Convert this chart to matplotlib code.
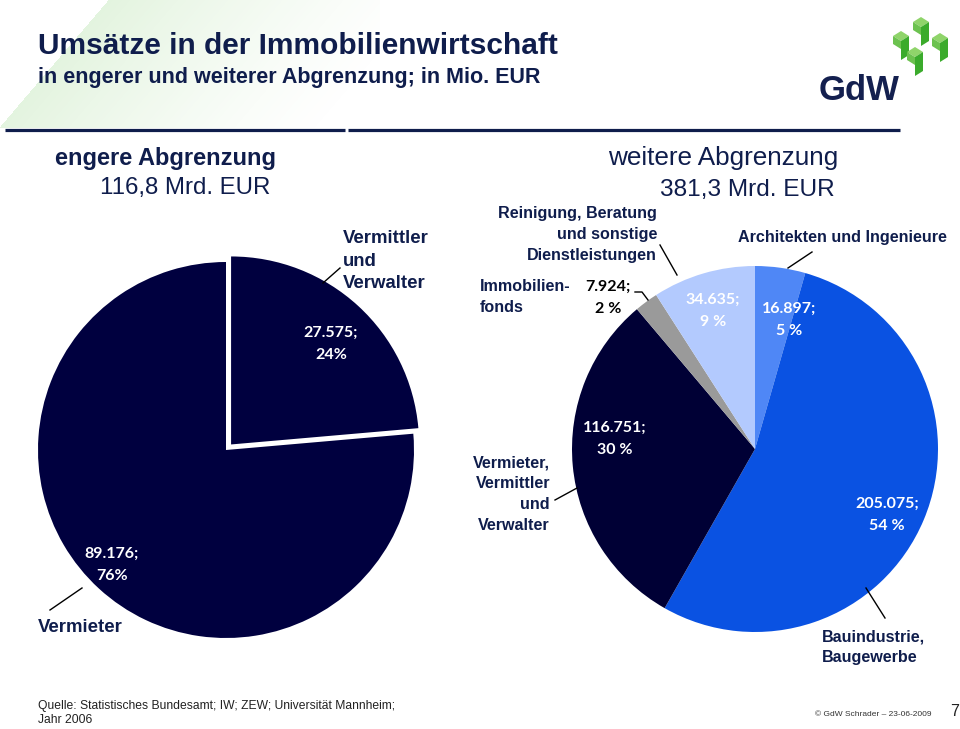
import numpy as np
import matplotlib.pyplot as plt
from matplotlib.patches import Polygon

# data (Mio. EUR)
narrow_labels = ["Vermittler und Verwalter", "Vermieter"]
narrow_values = [27575, 89176]
narrow_pct = ["24%", "76%"]

wide_labels = ["Architekten und Ingenieure", "Bauindustrie, Baugewerbe",
               "Vermieter, Vermittler und Verwalter", "Immobilienfonds",
               "Reinigung, Beratung und sonstige Dienstleistungen"]
wide_values = [16897, 205075, 116751, 7924, 34635]
wide_pct = ["5 %", "54 %", "30 %", "2 %", "9 %"]

narrow_total = "116,8 Mrd. EUR"
wide_total = "381,3 Mrd. EUR"

W, H = 960, 729
NAVY = "#0f1d4c"
ARIAL = "Liberation Sans"
CALIBRI = "Lato"


def Y(y):
    # slide pixel rows run top-down, axes run bottom-up
    return H - y


def fmt(v):
    return f"{v:,}".replace(",", ".") + ";"


fig = plt.figure(figsize=(W / 100, H / 100), dpi=100)
ax = fig.add_axes([0, 0, 1, 1])

# pale green header wash
gx, gy = np.meshgrid(np.linspace(0, 380, 380), np.linspace(0, 128, 128))
edge = 108 - gy * 0.85
alpha = np.where(gx > edge, np.clip(1 - (gx - edge) / 330, 0, 1) ** 1.3 * 0.24, 0)
img = np.zeros((128, 380, 4))
img[..., 0], img[..., 1], img[..., 2] = 0.55, 0.82, 0.48
img[..., 3] = alpha
ax.imshow(img, extent=(0, 380, Y(128), Y(0)), origin="upper", zorder=0,
          interpolation="bilinear")

# left pie (engere Abgrenzung); explode is in data units here
r1 = 188
w1, _ = ax.pie(narrow_values, colors=["#00003f", "#00003f"],
               explode=[0.04 * r1, 0], startangle=90, counterclock=False,
               center=(226, Y(450)), radius=r1, wedgeprops=dict(linewidth=0))

# right pie (weitere Abgrenzung)
wide_colors = ["#4f87f6", "#0a52e2", "#000035", "#9a9a9a", "#b3cafe"]
w2, _ = ax.pie(wide_values, colors=wide_colors, startangle=90,
               counterclock=False, center=(755, Y(449)), radius=183,
               wedgeprops=dict(linewidth=0))

ax.set_xlim(0, W)
ax.set_ylim(0, H)
ax.set_aspect("equal")
ax.axis("off")

# header
ax.text(38, Y(46), "Umsätze in der Immobilienwirtschaft", family=ARIAL,
        weight="bold", fontsize=21.5, color=NAVY, va="center")
ax.text(38, Y(77), "in engerer und weiterer Abgrenzung; in Mio. EUR",
        family=ARIAL, weight="bold", fontsize=15.5, color=NAVY, va="center")
ax.plot([5, 345], [Y(130), Y(130)], color=NAVY, lw=2.3, solid_capstyle="butt")
ax.plot([348, 900], [Y(130), Y(130)], color=NAVY, lw=2.3, solid_capstyle="butt")

# GdW logo
ax.text(819, Y(90), "GdW", family=ARIAL, weight="bold", fontsize=25,
        color="#14204f", va="center")
for cx, cy in [(901, 36), (921, 22), (940, 38), (915, 52)]:
    top = [(cx - 8, Y(cy)), (cx, Y(cy - 5)), (cx + 8, Y(cy)), (cx, Y(cy + 5))]
    side = [(cx, Y(cy + 5)), (cx + 8, Y(cy)), (cx + 8, Y(cy + 19)), (cx, Y(cy + 24))]
    front = [(cx - 8, Y(cy)), (cx, Y(cy + 5)), (cx, Y(cy + 13)), (cx - 8, Y(cy + 8))]
    ax.add_patch(Polygon(top, closed=True, color="#8fd46a", lw=0))
    ax.add_patch(Polygon(side, closed=True, color="#3bab2c", lw=0))
    ax.add_patch(Polygon(front, closed=True, color="#6cc24f", lw=0))

# section headings
ax.text(55, Y(158), "engere Abgrenzung", family=ARIAL, weight="bold",
        fontsize=17, color=NAVY, va="center")
ax.text(100, Y(188), narrow_total, family=ARIAL, fontsize=17.3, color=NAVY,
        va="center")
ax.text(608, Y(158), "weitere Abgrenzung", family=ARIAL, fontsize=18.8,
        color=NAVY, va="center")
ax.text(660, Y(190), wide_total, family=ARIAL, fontsize=17.6, color=NAVY,
        va="center")

# left pie labels
num = dict(family=CALIBRI, weight="bold", fontsize=11.5, ha="center",
           va="center", linespacing=1.75)
ax.text(331, Y(344), f"{fmt(narrow_values[0])}\n{narrow_pct[0]}", color="white", **num)
ax.text(112, Y(565), f"{fmt(narrow_values[1])}\n{narrow_pct[1]}", color="white", **num)

cat_l = dict(family=ARIAL, weight="bold", fontsize=13.4, color=NAVY, va="center",
             linespacing=1.45)
ax.text(343, Y(261), "Vermittler\nund\nVerwalter", ha="left", **cat_l)
ax.text(38, Y(627), narrow_labels[1], ha="left", **cat_l)
ax.plot([340, 323], [Y(268), Y(283)], color="black", lw=1)
ax.plot([50, 82], [Y(610), Y(588)], color="black", lw=1)

# right pie labels
wide_pos = [(789, 320), (887, 515), (615, 439), (608, 298), (713, 311)]
for v, p, (x, y), col in zip(wide_values, wide_pct, wide_pos,
                             ["white", "white", "white", "black", "white"]):
    ax.text(x, Y(y), f"{fmt(v)}\n{p}", color=col, **num)

cat_r = dict(family=ARIAL, weight="bold", fontsize=11.6, color=NAVY, va="center",
             linespacing=1.5)
ax.text(657, Y(234), "Reinigung, Beratung\nund sonstige\nDienstleistungen",
        ha="right", multialignment="right", **cat_r)
ax.text(738, Y(237), wide_labels[0], ha="left", **cat_r)
ax.text(480, Y(297), "Immobilien-\nfonds", ha="left", **cat_r)
ax.text(550, Y(494), "Vermieter,\nVermittler\nund\nVerwalter", ha="right",
        multialignment="right", **cat_r)
ax.text(822, Y(647), "Bauindustrie,\nBaugewerbe", ha="left", **cat_r)

ax.plot([660, 677], [Y(245), Y(275)], color="black", lw=1)
ax.plot([812, 788], [Y(252), Y(268)], color="black", lw=1)
ax.plot([635, 642, 648], [Y(292), Y(292), Y(300)], color="black", lw=1)
ax.plot([555, 577], [Y(500), Y(488)], color="black", lw=1)
ax.plot([866, 885], [Y(588), Y(618)], color="black", lw=1)

# footer
ax.text(38, Y(713), "Quelle: Statistisches Bundesamt; IW; ZEW; Universität Mannheim;\nJahr 2006",
        family=ARIAL, fontsize=8.7, color="#222222", va="center", linespacing=1.3)
ax.text(815, Y(714), "© GdW Schrader – 23-06-2009", family=ARIAL, fontsize=6,
        color="#333333", va="center")
ax.text(950, Y(712), "7", family=ARIAL, fontsize=11.5, color="#222222", va="center")

fig.savefig("out.png", dpi=100)
